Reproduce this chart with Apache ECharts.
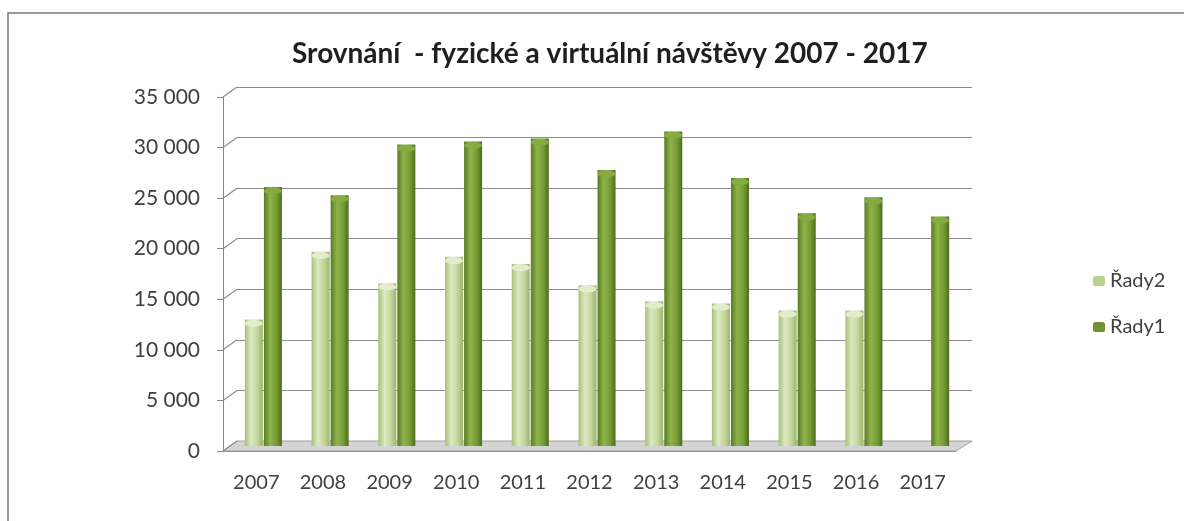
<!DOCTYPE html>
<html>
<head>
<meta charset="utf-8">
<script src="https://cdn.jsdelivr.net/npm/echarts@6/dist/echarts.min.js"></script>
<style>
  html, body { margin: 0; padding: 0; background: #fff; }
  #chart { width: 1184px; height: 521px; }
</style>
</head>
<body>
<div id="chart"></div>
<script>
const years = ['2007', '2008', '2009', '2010', '2011', '2012', '2013', '2014', '2015', '2016', '2017'];
const rady2 = [12500, 19200, 16100, 18700, 18000, 15900, 14300, 14100, 13400, 13400, null];
const rady1 = [25600, 24800, 29800, 30100, 30400, 27300, 31100, 26500, 23000, 24600, 22700];
const yTicks = [0, 5000, 10000, 15000, 20000, 25000, 30000, 35000];

// plot planes: back wall, bar plane (middle of the depth), front axis plane
const BACK = { left: 237, right: 972, top: 87, bottom: 441 };
const MID = { left: 230, right: 964, top: 92, bottom: 446 };
const FRONT = { left: 223, right: 956, top: 97, bottom: 451 };
const W = 1184, H = 521;

function gridOf(p) {
    return { left: p.left, top: p.top, width: p.right - p.left, height: p.bottom - p.top };
}

function fmt(v) {
    return String(v).replace(/\B(?=(\d{3})+(?!\d))/g, ' ');
}

const font = 'Lato, "Open Sans", sans-serif';

function cyl(c0, c1, c2, c3) {
    return {
        type: 'linear', x: 0, y: 0, x2: 1, y2: 0,
        colorStops: [
            { offset: 0, color: c0 },
            { offset: 0.35, color: c1 },
            { offset: 0.7, color: c2 },
            { offset: 1, color: c3 }
        ]
    };
}

const lightFill = cyl('#a8c078', '#dce9c2', '#c2d69a', '#9cb46c');
const darkFill = cyl('#5b7a24', '#8db449', '#779c35', '#4f6b1e');

const yAxisBase = { type: 'value', min: 0, max: 35000, interval: 5000 };

var chart = echarts.init(document.getElementById('chart'));

var option = {
    animation: false,
    backgroundColor: '#fff',
    title: {
        text: 'Srovnání  - fyzické a virtuální návštěvy 2007 - 2017',
        left: 287,
        top: 35,
        textStyle: { fontFamily: font, fontSize: 28, fontWeight: 'bold', color: '#1f1f1f' }
    },
    legend: {
        orient: 'vertical',
        left: 1088,
        top: 266,
        itemWidth: 12,
        itemHeight: 10,
        itemGap: 26,
        data: [
            { name: 'Řady2', itemStyle: { color: '#bcd08f' } },
            { name: 'Řady1', itemStyle: { color: '#6f9233' } }
        ],
        textStyle: { fontFamily: font, fontSize: 20, color: '#404040' }
    },
    grid: [gridOf(BACK), gridOf(MID), gridOf(FRONT)],
    xAxis: [
        { type: 'category', data: years, gridIndex: 0, show: false },
        { type: 'category', data: years, gridIndex: 1, show: false },
        {
            type: 'category', data: years, gridIndex: 2,
            axisLine: { lineStyle: { color: '#868686' } },
            axisTick: { length: 5, lineStyle: { color: '#868686' } },
            axisLabel: { margin: 22, fontFamily: font, fontSize: 20, color: '#404040' }
        }
    ],
    yAxis: [
        Object.assign({}, yAxisBase, {
            gridIndex: 0,
            axisLine: { show: false }, axisTick: { show: false }, axisLabel: { show: false },
            splitLine: { lineStyle: { color: '#8c8c8c', width: 1.2 } }
        }),
        Object.assign({}, yAxisBase, { gridIndex: 1, show: false }),
        Object.assign({}, yAxisBase, {
            gridIndex: 2,
            splitLine: { show: false },
            axisLine: { show: true, lineStyle: { color: '#868686' } },
            axisTick: { show: true, length: 6, lineStyle: { color: '#868686' } },
            axisLabel: { margin: 23, fontFamily: font, fontSize: 21, color: '#404040', formatter: fmt }
        })
    ],
    series: [
        {
            name: 'Řady2', type: 'bar', xAxisIndex: 1, yAxisIndex: 1,
            data: rady2, barWidth: 18, barGap: '6%', z: 3,
            itemStyle: { color: lightFill }
        },
        {
            name: 'Řady1', type: 'bar', xAxisIndex: 1, yAxisIndex: 1,
            data: rady1, barWidth: 18, barGap: '6%', z: 3,
            itemStyle: { color: darkFill }
        },
        {
            name: 'cap2', type: 'pictorialBar', xAxisIndex: 1, yAxisIndex: 1,
            data: rady2, symbol: 'circle', symbolSize: [18, 7], symbolPosition: 'end',
            barWidth: 18, barGap: '6%', z: 4, silent: true,
            itemStyle: { color: '#e2edcd', borderColor: '#a9bf7f', borderWidth: 1 }
        },
        {
            name: 'cap1', type: 'pictorialBar', xAxisIndex: 1, yAxisIndex: 1,
            data: rady1, symbol: 'circle', symbolSize: [18, 7], symbolPosition: 'end',
            barWidth: 18, barGap: '6%', z: 4, silent: true,
            itemStyle: { color: '#86ab41', borderColor: '#54711f', borderWidth: 1 }
        }
    ]
};

chart.setOption(option);

// depth decorations: floor, left-wall diagonals, outer frame
var graphics = [
    {
        type: 'rect', silent: true, z: 0,
        shape: { x: 8, y: 13, width: W + 20, height: H + 20 },
        style: { fill: null, stroke: '#7a7a7a', lineWidth: 1.5 }
    },
    {
        type: 'polygon', silent: true, z: 1,
        shape: { points: [[FRONT.left, FRONT.bottom], [FRONT.right, FRONT.bottom], [BACK.right, BACK.bottom], [BACK.left, BACK.bottom]] },
        style: { fill: '#d4d4d4', stroke: '#a0a0a0', lineWidth: 1 }
    }
];
yTicks.forEach(function (v) {
    var yf = chart.convertToPixel({ yAxisIndex: 2 }, v);
    var yb = chart.convertToPixel({ yAxisIndex: 0 }, v);
    graphics.push({
        type: 'line', silent: true, z: 1,
        shape: { x1: FRONT.left, y1: yf, x2: BACK.left, y2: yb },
        style: { stroke: '#8c8c8c', lineWidth: 1.2 }
    });
});
chart.setOption({ graphic: graphics });

window.addEventListener('resize', function () {
    chart.resize();
});
</script>
</body>
</html>
